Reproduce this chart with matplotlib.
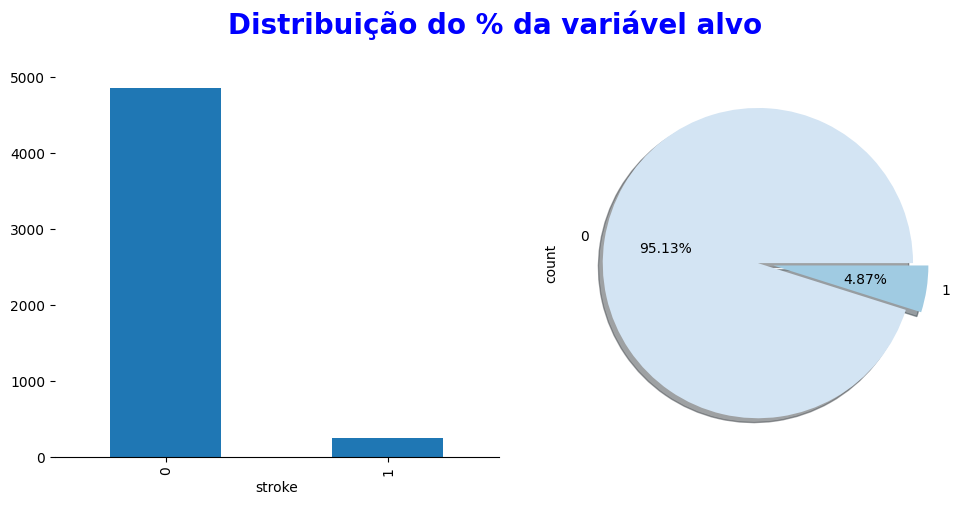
import numpy as np
import pandas as pd
import matplotlib.pyplot as plt

# contagem da variavel alvo
categories = ["0", "1"]
counts = [4861, 249]
pie_colors = ["#d3e4f3", "#a0cbe2"]

fig = plt.figure(figsize=(9.61, 5.05), dpi=100)
fig.suptitle("Distribuição do % da variável alvo", fontsize=20, fontweight="bold",
             color="blue", x=0.5156, y=0.98)

# barras
ax1 = fig.add_axes([0.0572, 0.095, 0.4620, 0.768])
ax1.bar(categories, counts, width=0.5, color="#1f77b4")
ax1.set_xlim(-0.5, 1.5)
ax1.set_xlabel("stroke")
ax1.tick_params(axis="x", labelrotation=90)
for s in ["top", "right", "left"]:
    ax1.spines[s].set_visible(False)

# pizza
ax2 = fig.add_axes([0.5868, 0.095, 0.4037, 0.768])
ax2.pie(counts, labels=categories, explode=[0, 0.1], autopct="%1.2f%%",
        shadow=True, colors=pie_colors)
ax2.set_ylabel("count")

fig.savefig("out.png", dpi=100)
